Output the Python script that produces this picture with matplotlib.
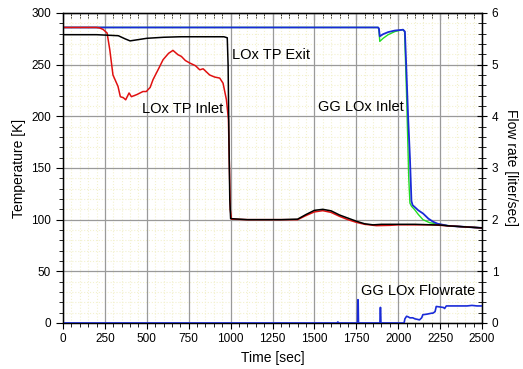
import matplotlib.pyplot as plt
from matplotlib.ticker import MultipleLocator, FixedLocator

plt.rcParams['font.family'] = ['Liberation Sans', 'DejaVu Sans']

# LOx TP Exit (black) [sec, K]
exit_t = [0, 200, 330, 370, 400, 440, 500, 600, 700, 800, 900, 960, 980, 985, 990, 995,
          1000, 1100, 1200, 1300, 1400, 1450, 1500, 1550, 1600, 1650, 1700, 1750, 1800,
          1850, 1900, 1950, 2000, 2100, 2200, 2250, 2300, 2400, 2500]
exit_T = [279, 279, 278, 275, 273, 274, 275.5, 276.5, 277, 277, 277, 277, 276, 250, 180, 120,
          101, 100, 100, 100, 100.5, 105, 109, 110, 108.5, 104.5, 101.5, 98.5, 96,
          95, 95.5, 95.5, 95.5, 95.5, 95, 94.8, 94, 93, 92]

# LOx TP Inlet (red)
inlet_t = [0, 200, 219, 240, 263, 279, 298, 328, 342, 360, 374, 394, 408, 440, 477, 497, 520,
           537, 570, 597, 630, 656, 686, 706, 730, 756, 790, 816, 836, 875, 905, 935, 955,
           975, 987, 993, 998, 1005, 1100, 1200, 1300, 1400, 1450, 1500, 1550, 1600,
           1650, 1700, 1750, 1800, 1870, 1950, 2000, 2100, 2200, 2300, 2400, 2500]
inlet_T = [286, 286, 285.5, 284, 280.6, 264.5, 240, 229, 219, 218, 216, 222.6, 219, 221, 224,
           224, 228, 235.5, 246, 254.8, 261, 263.8, 259.6, 258, 254, 251.6, 249, 245, 246,
           240, 238, 237, 232, 216, 197, 150, 110, 100.5, 100, 100, 100, 100, 104, 107.5,
           108.7, 107, 103.2, 100, 97.4, 95.5, 94.2, 94.5, 95, 95, 95, 94, 93, 92]

# GG LOx Inlet (blue and green)
gg_blue_t = [0, 1880, 1885, 1890, 1910, 1940, 1980, 2029, 2040, 2050, 2059, 2070, 2079, 2086,
             2100, 2120, 2148, 2180, 2208, 2236, 2300, 2400, 2500]
gg_blue_T = [286, 286, 285, 277.4, 279.5, 281.5, 283, 283.8, 282, 240, 200, 160, 118, 114,
             112, 109, 106, 101, 98, 96, 94, 93, 92]
gg_green_t = [0, 1880, 1885, 1890, 1910, 1940, 1980, 2029, 2038, 2050, 2063, 2070, 2079,
              2098, 2120, 2148, 2188, 2230, 2300, 2400, 2500]
gg_green_T = [286, 286, 284, 272.5, 275.5, 279, 282, 284, 282, 220, 140, 116, 113, 109.7,
              105, 100, 97, 96, 94, 93, 92]

# GG LOx Flowrate [liter/sec]
flow_t = [0, 1635, 1640, 1645, 1757, 1759, 1761, 1763, 1891, 1893, 1895, 1897, 2035, 2040,
          2050, 2059, 2070, 2087, 2100, 2115, 2127, 2140, 2147, 2170, 2200, 2207, 2220, 2227,
          2250, 2270, 2277, 2287, 2320, 2350, 2380, 2410, 2440, 2470, 2500]
flow_q = [0, 0, 0.02, 0, 0, 0.45, 0.45, 0, 0, 0.3, 0.3, 0, 0, 0.08,
          0.13, 0.12, 0.1, 0.1, 0.08, 0.07, 0.06, 0.1, 0.16, 0.17, 0.19, 0.19, 0.22, 0.32,
          0.31, 0.3, 0.28, 0.33, 0.33, 0.33, 0.33, 0.33, 0.34, 0.33, 0.33]

fig = plt.figure(figsize=(5.23, 3.69), dpi=100)
ax = fig.add_axes([0.1205, 0.1247, 0.8011, 0.8401])

xmajor = list(range(0, 2501, 250))
xminor = [v for v in range(0, 2501, 50) if v % 250]
ymajor = list(range(0, 301, 50))
yminor = [v for v in range(0, 301, 10) if v % 50]

ax.xaxis.set_major_locator(FixedLocator(xmajor))
ax.xaxis.set_minor_locator(FixedLocator(xminor))
ax.yaxis.set_major_locator(FixedLocator(ymajor))
ax.yaxis.set_minor_locator(FixedLocator(yminor))

# faint dotted minor grid underneath, solid gray major grid on top of it
for v in xminor:
    ax.axvline(v, color='#f3f1cf', linestyle=':', linewidth=0.8, zorder=0.1)
for v in yminor:
    ax.axhline(v, color='#f3f1cf', linestyle=':', linewidth=0.8, zorder=0.1)
ax.grid(which='major', color='#9a9a9a', linestyle='-', linewidth=0.9)
ax.set_axisbelow(True)

ax.plot(gg_green_t, gg_green_T, color='#22dd22', lw=1.0)
ax.plot(gg_blue_t, gg_blue_T, color='#1a2bd8', lw=1.3)
ax.plot(inlet_t, inlet_T, color='#e01010', lw=1.1)
ax.plot(exit_t, exit_T, color='black', lw=1.1)

ax.set_xlim(0, 2500)
ax.set_ylim(0, 300)
ax.set_xlabel('Time [sec]', fontsize=10)
ax.set_ylabel('Temperature [K]', fontsize=10)
ax.tick_params(which='both', labelsize=8.5, direction='out')
ax.tick_params(axis='x', which='major', length=4)
ax.tick_params(axis='x', which='minor', length=3)
ax.tick_params(axis='y', which='major', length=5)
ax.tick_params(axis='y', which='minor', length=3)
for s in ax.spines.values():
    s.set_linewidth(1.0)

# top axis: inward ticks, no labels
top = ax.secondary_xaxis('top')
top.xaxis.set_major_locator(FixedLocator(xmajor))
top.xaxis.set_minor_locator(FixedLocator(xminor))
top.tick_params(which='both', direction='in', labeltop=False)
top.tick_params(which='major', length=5)
top.tick_params(which='minor', length=3.5)

ax2 = ax.twinx()
ax2.plot(flow_t, flow_q, color='#1a2bd8', lw=1.2)
ax2.set_ylim(0, 6)
ax2.yaxis.set_major_locator(MultipleLocator(1))
ax2.yaxis.set_minor_locator(MultipleLocator(0.2))
ax2.tick_params(which='both', direction='inout', labelsize=8.5)
ax2.tick_params(which='major', length=7)
ax2.tick_params(which='minor', length=6)
ax2.set_ylabel('Flow rate [liter/sec]', fontsize=10, rotation=-90, labelpad=14)

ax.text(1010, 255, 'LOx TP Exit', fontsize=10.5)
ax.text(470, 203, 'LOx TP Inlet', fontsize=10.5)
ax.text(1520, 205, 'GG LOx Inlet', fontsize=10.5)
ax2.text(1780, 0.55, 'GG LOx Flowrate', fontsize=10.5)

fig.savefig('out.png', dpi=100)
